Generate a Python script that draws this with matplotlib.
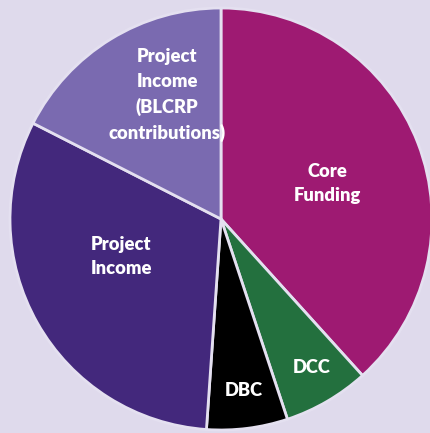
import numpy as np
import matplotlib
matplotlib.use("Agg")
import matplotlib.pyplot as plt

labels = ["Core\nFunding", "DCC", "DBC", "Project\nIncome", "Project\nIncome\n(BLCRP\ncontributions)"]
values = [38.3, 6.6, 6.2, 31.4, 17.5]
colors = ["#9E1A72", "#23703E", "#000000", "#43287C", "#7A6AB0"]
label_r = [0.53, 0.825, 0.822, 0.505, 0.64]
label_shift = [-2.6, 1.0, 0.3, -9.1, -8.0]   # degrees off the wedge middle

bg = "#DFDAEC"
fig = plt.figure(figsize=(4.30, 4.33), dpi=100, facecolor=bg)
ax = fig.add_axes([0, 0, 1, 1])
ax.set_facecolor(bg)
ax.axis("off")

wedges, _ = ax.pie(values, colors=colors, startangle=90, counterclock=False,
                   radius=1.0,
                   wedgeprops=dict(edgecolor="#E4E0F0", linewidth=2.0, joinstyle="round"))

for w, lab, r, sh in zip(wedges, labels, label_r, label_shift):
    mid = np.deg2rad((w.theta1 + w.theta2) / 2 + sh)
    ax.text(r * np.cos(mid), r * np.sin(mid), lab, ha="center", va="center",
            color="white", fontsize=13.2, fontweight="heavy", family="Lato",
            linespacing=1.52)

ax.set_xlim(-221 / 211, (430 - 221) / 211)
ax.set_ylim(-214 / 211, (433 - 214) / 211)
ax.set_aspect("auto")

fig.savefig("out.png", dpi=100, facecolor=bg)
